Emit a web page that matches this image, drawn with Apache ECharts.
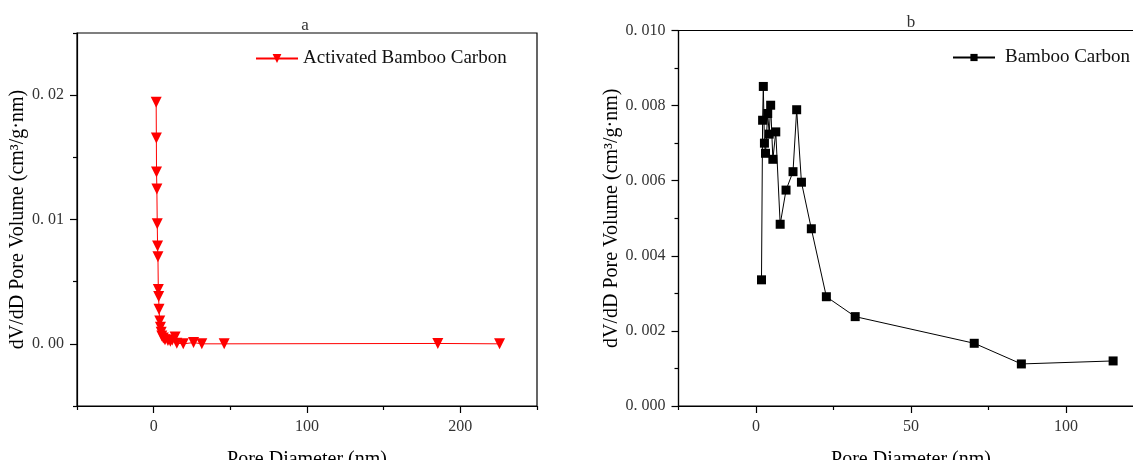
<!DOCTYPE html>
<html>
	<head>
		<meta charset="utf-8" />
		<title>Pore size distribution</title>
		<style type="text/css">
			html, body {margin:0;padding:0;background:#fff;}
			#chart {width:1133px;height:460px;}
		</style>
	</head>
	<body>
		<div id="chart"></div>
		<script src="https://cdn.jsdelivr.net/npm/echarts@6/dist/echarts.min.js"></script>
		<script type="text/javascript">
			// panel a - activated bamboo carbon
			const abcNames = ['Activated Bamboo Carbon'];
			const abcDiameter = [1.63, 1.75, 1.86, 2.09, 2.33, 2.56, 2.79, 3.02, 3.26, 3.49, 3.95, 4.4, 4.9, 5.3, 6.3, 7.4, 9.3, 10.9, 12.1, 14.0, 15.1, 19.3, 26.0, 31.4, 46.0, 185.3, 225.6];
			const abcVolume = [0.01944, 0.01656, 0.01383, 0.01246, 0.00966, 0.00787, 0.00701, 0.00438, 0.00381, 0.00279, 0.00183, 0.00134, 0.00094, 0.00064, 0.00046, 0.00032, 0.00027, 0.0002, 0.0003, 0.00054, 0.00005, 0.0, 0.0001, 0.0, 0.0, 0.00003, 0.0];
			// panel b - bamboo carbon
			const bcNames = ['Bamboo Carbon'];
			const bcDiameter = [1.77, 2.13, 2.36, 2.72, 3.07, 3.78, 4.26, 4.73, 5.44, 6.38, 7.80, 9.69, 11.94, 13.12, 14.66, 17.85, 22.7, 32.0, 70.4, 85.6, 115.2];
			const bcVolume = [0.00336, 0.00761, 0.00851, 0.00700, 0.00673, 0.00779, 0.00724, 0.00801, 0.00657, 0.00730, 0.00484, 0.00575, 0.00624, 0.00789, 0.00596, 0.00472, 0.00291, 0.00238, 0.00167, 0.00112, 0.00120];
			// tick labels
			const aXTicks = [0, 100, 200];
			const aXMinor = [-50, 50, 150, 250];
			const aYTicks = [0, 0.01, 0.02];
			const aYMinor = [-0.005, 0.005, 0.015, 0.025];
			const bXTicks = [0, 50, 100];
			const bXMinor = [-25, 25, 75, 125];
			const bYTicks = [0, 0.002, 0.004, 0.006, 0.008, 0.01];
			const bYMinor = [0.001, 0.003, 0.005, 0.007, 0.009];

			const serif = 'Liberation Serif';
			const yName = 'dV/dD Pore Volume (cm\u00b3/g\u00b7nm)';

			//主刻度轴
			function mainAxis(grid, min, max, ticks, fmt, name, gap) {
				return {
					type: 'value', gridIndex: grid, min: min, max: max,
					name: name, nameLocation: 'middle', nameGap: gap,
					nameTextStyle: {fontFamily: serif, fontSize: 20, color: '#000'},
					axisLine: {show: true, onZero: false, lineStyle: {color: '#000', width: 1.2}},
					axisTick: {show: true, length: 7, customValues: ticks, lineStyle: {color: '#000', width: 1.2}},
					axisLabel: {customValues: ticks, formatter: fmt, margin: 13, fontFamily: serif, fontSize: 16, color: '#333'},
					splitLine: {show: false}
				};
			}
			//次刻度轴(只画短刻度)
			function minorAxis(grid, min, max, ticks) {
				return {
					type: 'value', gridIndex: grid, min: min, max: max,
					axisLine: {show: false, onZero: false},
					axisTick: {show: true, length: 4, customValues: ticks, lineStyle: {color: '#000', width: 1.2}},
					axisLabel: {show: false},
					splitLine: {show: false}
				};
			}

			const chart = echarts.init(document.getElementById('chart'));
			const xa0 = mainAxis(0, -50, 250, aXTicks, v => String(v), 'Pore Diameter (nm)', 44);
			const xa1 = minorAxis(0, -50, 250, aXMinor);
			const xb0 = mainAxis(1, -25, 125, bXTicks, v => String(v), 'Pore Diameter (nm)', 44);
			const xb1 = minorAxis(1, -25, 125, bXMinor);
			[xa0, xa1, xb0, xb1].forEach(a => a.position = 'bottom');
			const ya0 = mainAxis(0, -0.005, 0.025, aYTicks, v => v.toFixed(2).replace('.', '. '), yName, 45);
			const ya1 = minorAxis(0, -0.005, 0.025, aYMinor);
			const yb0 = mainAxis(1, 0, 0.01, bYTicks, v => v.toFixed(3).replace('.', '. '), yName, 55);
			const yb1 = minorAxis(1, 0, 0.01, bYMinor);
			[ya0, ya1, yb0, yb1].forEach(a => {a.position = 'left'; a.offset = 0;});

			chart.setOption({
				animation: false,
				backgroundColor: '#fff',
				title: [
					{text: 'a', left: 300, top: 12, textAlign: 'center', textStyle: {fontFamily: serif, fontSize: 17, fontWeight: 'normal', color: '#333'}},
					{text: 'b', left: 906, top: 9, textAlign: 'center', textStyle: {fontFamily: serif, fontSize: 17, fontWeight: 'normal', color: '#333'}}
				],
				legend: [
					{data: abcNames, left: 255, top: 49, padding: 0, itemWidth: 42, itemHeight: 11, textStyle: {fontFamily: serif, fontSize: 19, color: '#111'}},
					{data: bcNames, left: 952, top: 48, padding: 0, itemWidth: 42, itemHeight: 9, itemGap: 0, textStyle: {fontFamily: serif, fontSize: 19, color: '#111', padding: [0, 0, 0, 5]}}
				],
				grid: [
					{left: 77, top: 33, width: 460, height: 373, show: true, borderColor: '#000', borderWidth: 1.2, outerBoundsMode: 'none'},
					{left: 678.5, top: 30.5, width: 465, height: 375.5, show: true, borderColor: '#000', borderWidth: 1.2, outerBoundsMode: 'none'}
				],
				xAxis: [xa0, xa1, xb0, xb1],
				yAxis: [ya0, ya1, yb0, yb1],
				series: [{
					name: abcNames[0], type: 'line', xAxisIndex: 0, yAxisIndex: 0,
					symbol: 'triangle', symbolRotate: 180, symbolSize: 11,
					lineStyle: {color: '#ff0000', width: 1},
					itemStyle: {color: '#ff0000'},
					data: abcDiameter.map((d, i) => [d, abcVolume[i]])
				}, {
					name: bcNames[0], type: 'line', xAxisIndex: 2, yAxisIndex: 2,
					symbol: 'rect', symbolSize: 9,
					lineStyle: {color: '#000', width: 1},
					itemStyle: {color: '#000'},
					data: bcDiameter.map((d, i) => [d, bcVolume[i]])
				}]
			});
		</script>
	</body>
</html>
